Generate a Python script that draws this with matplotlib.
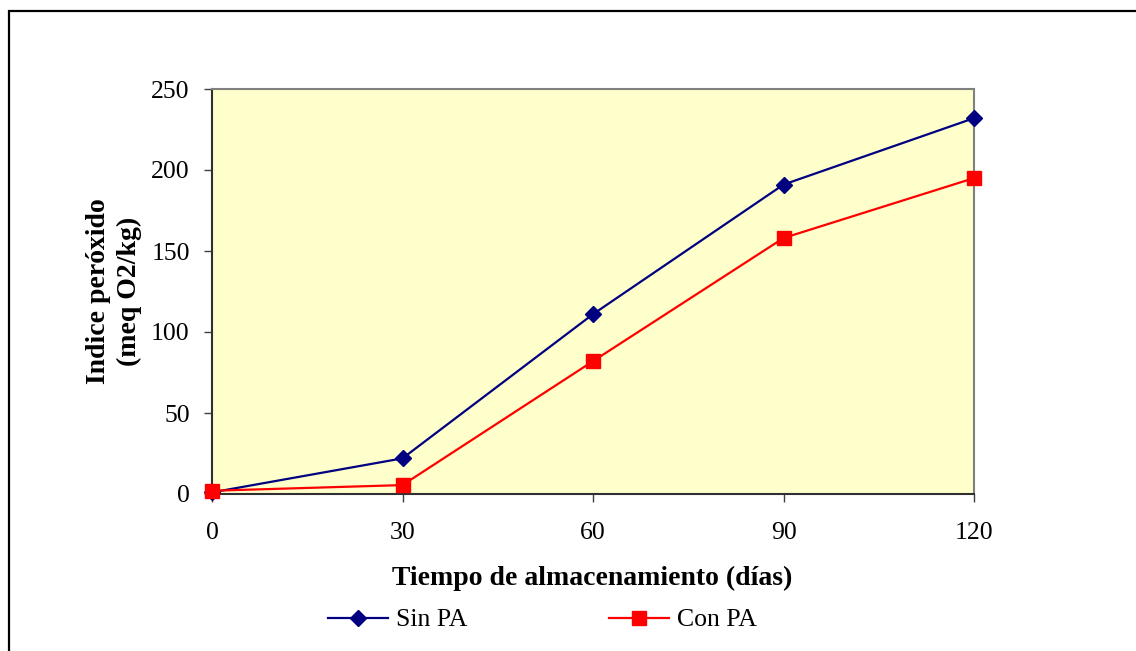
import matplotlib
matplotlib.use("Agg")
import matplotlib.pyplot as plt
from matplotlib.patches import Rectangle

# storage time (days) and peroxide index (meq O2/kg)
dias = [0, 30, 60, 90, 120]
sin_pa = [1, 22, 111, 191, 232]
con_pa = [2, 5.5, 82, 158, 195]

plt.rcParams['font.family'] = ['Liberation Serif', 'DejaVu Serif']
fs = 18.5
fs_lab = 20

fig = plt.figure(figsize=(11.36, 6.51), dpi=100)
ax = fig.add_axes([212/1136, 1 - 494/651, 762/1136, 405/651])
ax.set_facecolor("#FFFFCC")

ax.plot(dias, sin_pa, color="#000080", lw=1.6, marker="D", ms=8.5,
        label="Sin PA", clip_on=False, zorder=3)
ax.plot(dias, con_pa, color="#FF0000", lw=1.6, marker="s", ms=9.5,
        label="Con PA", clip_on=False, zorder=4)

ax.set_xlim(0, 120)
ax.set_ylim(0, 250)
ax.set_xticks(dias)
ax.set_yticks(range(0, 251, 50))
ax.tick_params(axis="both", direction="out", labelsize=fs, color="#404040",
               length=6, width=1)
ax.tick_params(axis="y", pad=10)
ax.tick_params(axis="x", pad=14)

for side in ["top", "right"]:
    ax.spines[side].set_color("#808080")
    ax.spines[side].set_linewidth(1.5)
for side in ["left", "bottom"]:
    ax.spines[side].set_color("#303030")
    ax.spines[side].set_linewidth(1.5)

fig.text(592/1136, 1 - 578/651, "Tiempo de almacenamiento (días)",
         ha="center", va="center", fontsize=fs_lab, fontweight="bold")
fig.text(114/1136, 1 - 291/651, "Indice peróxido\n(meq O2/kg)",
         ha="center", va="center", rotation=90, fontsize=fs_lab,
         fontweight="bold", multialignment="center", linespacing=1.35)

fig.legend(loc="center left", bbox_to_anchor=(328/1136, 1 - 620/651),
           ncol=2, frameon=False, fontsize=fs, handlelength=2.35,
           handletextpad=0.3, columnspacing=5.5, borderpad=0,
           borderaxespad=0)

# outer frame of the chart
fig.patches.append(Rectangle((9/1136, -0.05), 1.1, 1 - 11/651 + 0.05,
                             transform=fig.transFigure, fill=False,
                             edgecolor="black", lw=1.6, zorder=0))

fig.savefig("out.png", dpi=100)
